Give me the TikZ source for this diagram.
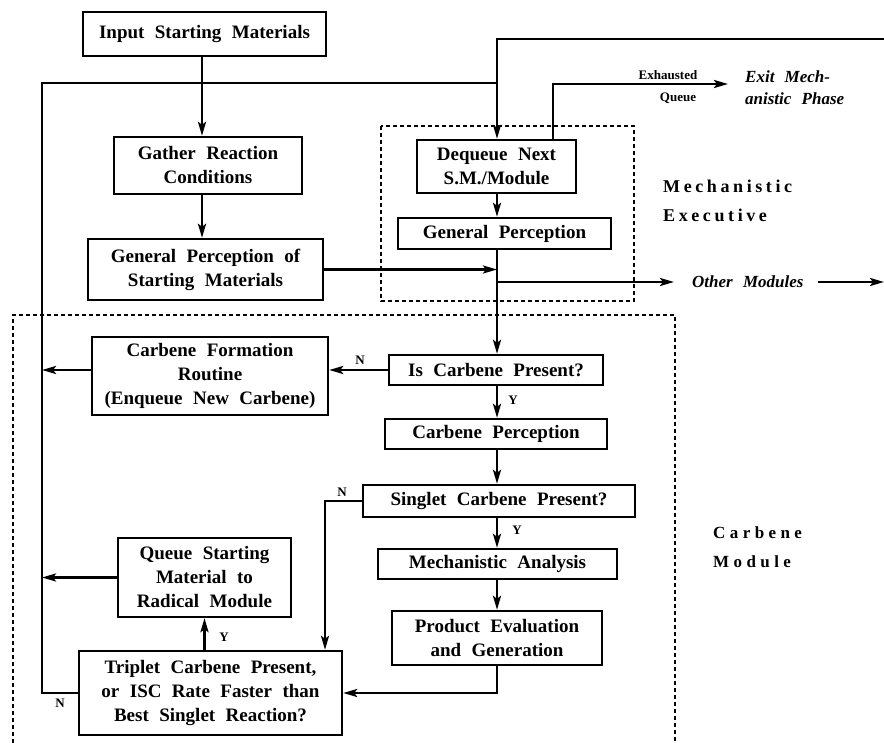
\documentclass[tikz,border=0pt]{standalone}
\usepackage{fontspec}
\setmainfont{Liberation Serif}
\usetikzlibrary{arrows.meta,calc}
\newcommand\boxfont{\bfseries\fontsize{19}{24}\selectfont\spaceskip=0.55em plus 0.1em\relax}
\newcommand\labfont{\bfseries\fontsize{13}{13}\selectfont}
\newcommand\itfont{\bfseries\itshape\fontsize{17}{22}\selectfont\spaceskip=0.6em\relax}
\begin{document}
\begin{tikzpicture}[x=1pt,y=-1pt,
  box/.style={draw,line width=2.4pt,inner sep=0pt,align=center,font=\boxfont},
  ln/.style={line width=2.6pt},
  arr/.style={ln,-{Stealth[length=14pt,width=8pt,inset=3pt]}},
  dsh/.style={line width=2.2pt,dash pattern=on 4pt off 3pt},
  lab/.style={font=\labfont,inner sep=0pt},
  itl/.style={font=\itfont,inner sep=0pt,align=left},
  title/.style={inner sep=0pt,anchor=base west},
]
\useasboundingbox (0,0) rectangle (884,743);

% dashed module frames
\draw[dsh] (381,126) rectangle (634,301);
\draw[dsh] (13,743) -- (13,315) -- (675,315) -- (675,743);

% boxes
\node[box,minimum width=243pt,minimum height=44pt] (inp) at (204.5,34) {Input Starting Materials};
\node[box,minimum width=188pt,minimum height=57pt] (gath) at (208,165.5) {Gather Reaction\\Conditions};
\node[box,minimum width=235pt,minimum height=61pt] (gpsm) at (205.5,269.5) {General Perception of\\Starting Materials};
\node[box,minimum width=159pt,minimum height=53pt] (deq) at (496.5,166.5) {Dequeue Next\\S.M./Module};
\node[box,minimum width=213pt,minimum height=31pt] (gp) at (504.5,233.5) {General Perception};
\node[box,minimum width=214pt,minimum height=30pt] (isc) at (496,370) {Is Carbene Present?};
\node[box,minimum width=222pt,minimum height=30pt] (cp) at (496,434) {Carbene Perception};
\node[box,minimum width=272pt,minimum height=32pt] (sing) at (499,501) {Singlet Carbene Present?};
\node[box,minimum width=239pt,minimum height=30pt] (mech) at (497.5,564) {Mechanistic Analysis};
\node[box,minimum width=210pt,minimum height=54pt] (prod) at (497,638) {Product Evaluation\\and Generation};
\node[box,minimum width=236pt,minimum height=78pt] (cform) at (210,376) {Carbene Formation\\Routine\\(Enqueue New Carbene)};
\node[box,minimum width=173pt,minimum height=79pt] (queue) at (204.5,577.5) {Queue Starting\\Material to\\Radical Module};
\node[box,minimum width=263pt,minimum height=84pt] (trip) at (210.5,693) {Triplet Carbene Present,\\or ISC Rate Faster than\\Best Singlet Reaction?};

% section titles
\node[title,font=\bfseries\fontsize{18}{18}\selectfont\addfontfeature{LetterSpace=20}] (me1) at (663,193) {Mechanistic};
\node[title,font=\bfseries\fontsize{18}{18}\selectfont\addfontfeature{LetterSpace=20}] (me2) at (663,222) {Executive};
\node[title,font=\bfseries\fontsize{17}{17}\selectfont\addfontfeature{LetterSpace=26}] (cm1) at (713,538) {Carbene};
\node[title,font=\bfseries\fontsize{17}{17}\selectfont\addfontfeature{LetterSpace=26}] (cm2) at (713,567) {Module};

% other texts
\node[itl,anchor=base west] (om) at (692,288) {Other Modules};
\node[itl,anchor=base west] (ex1) at (745,83) {Exit Mech-};
\node[itl,anchor=base west] (ex2) at (745,105) {anistic Phase};
\node[lab,anchor=base] (exh) at (668,80) {Exhausted};
\node[lab,anchor=base] (que) at (678,102) {Queue};

% helper coordinates
\coordinate (M) at (497,0);
\coordinate (colA) at (202,0);
\coordinate (LL) at (42,0);
\coordinate (LT) at (42,83);
\coordinate (JT) at (497,83);
\coordinate (topR) at (884,39);
\coordinate (topJ) at (497,39);
\coordinate (OM) at (497,282);
\coordinate (exX) at (553,0);
\coordinate (exT) at (728,84);
\coordinate (nx) at (325,0);
\coordinate (rEdge) at (884,282);

% connectors
\draw[arr] (inp.south -| colA) -- (gath.north -| colA);
\draw[arr] (gath.south -| colA) -- (gpsm.north -| colA);
\draw[arr] (topR) -- (topJ) -- (deq.north -| M);
\draw[ln] (trip.west) -| (LT) -- (JT);
\draw[arr] (gpsm.east) -- (gpsm.east -| M);
\draw[arr] (deq.south -| M) -- (gp.north -| M);
\draw[arr] (gp.south -| M) -- (isc.north -| M);
\draw[arr] (OM) -- ([xshift=-18pt]om.west |- OM);
\draw[arr] ([xshift=14pt]om.east |- OM) -- (rEdge);
\draw[arr] (deq.north -| exX) |- (exT);

\draw[arr] (isc.west) -- (isc.west -| cform.east);
\node[lab] (n1) at (360,360) {N};
\draw[arr] (cform.west |- isc.west) -- (LL |- isc.west);
\draw[arr] (isc.south -| M) -- (cp.north -| M);
\node[lab] (y1) at (513,400) {Y};
\draw[arr] (cp.south -| M) -- (sing.north -| M);
\draw[arr] (sing.south -| M) -- (mech.north -| M);
\node[lab] (y2) at (517,530) {Y};
\draw[arr] (mech.south -| M) -- (prod.north -| M);
\draw[arr] (prod.south -| M) |- (trip.east);
\draw[arr] (sing.west) -| (nx |- trip.north);
\node[lab] (n2) at (342,492) {N};
\draw[arr] (trip.north -| queue.south) -- (queue.south);
\node[lab] (y3) at (224,637) {Y};
\draw[arr] (queue.west) -- (LL |- queue.west);
\node[lab] (n3) at (60,703) {N};
\end{tikzpicture}
\end{document}
